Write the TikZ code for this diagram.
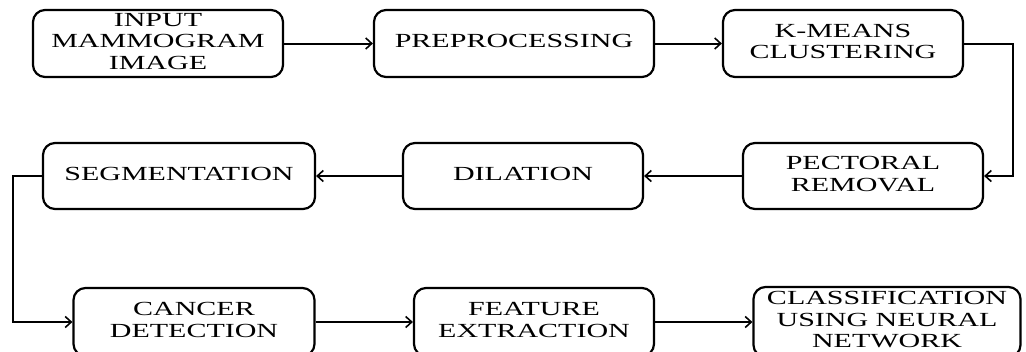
\documentclass[tikz,border=0pt]{standalone}
\usepackage{fontspec}
\setmainfont{Liberation Serif}
\usetikzlibrary{arrows.meta,positioning}
\newcommand\bt[1]{\scalebox{1.5}[1]{\begin{tabular}{@{}c@{}}#1\end{tabular}}}
\begin{document}
\begin{tikzpicture}[x=1pt,y=-1pt,
  box/.style={draw,line width=2.2pt,rounded corners=12pt,inner sep=0pt,
    font=\fontsize{20}{21.5}\selectfont,align=center},
  conn/.style={line width=2pt,-{Straight Barb[length=6pt,width=11pt,line width=1.6pt]}}]
\useasboundingbox (0,0) rectangle (1026,351);
\clip (0,0) rectangle (1026,351);
\node[box,minimum width=250pt,minimum height=67pt] (b1) at (158,43.5) {\bt{INPUT\\MAMMOGRAM\\IMAGE}};
\node[box,minimum width=280pt,minimum height=67pt] (b2) at (514,43.5) {\bt{PREPROCESSING}};
\node[box,minimum width=240pt,minimum height=67pt] (b3) at (843,43.5) {\bt{K-MEANS\\CLUSTERING}};
\node[box,minimum width=240pt,minimum height=66pt] (pr) at (863,176) {\bt{PECTORAL\\REMOVAL}};
\node[box,minimum width=240pt,minimum height=66pt] (di) at (523,176) {\bt{DILATION}};
\node[box,minimum width=272pt,minimum height=66pt] (se) at (179,176) {\bt{SEGMENTATION}};
\node[box,minimum width=241pt,minimum height=68pt] (ca) at (194,322) {\bt{CANCER\\DETECTION}};
\node[box,minimum width=240pt,minimum height=68pt] (fe) at (534,322) {\bt{FEATURE\\EXTRACTION}};
\node[box,minimum width=267pt,minimum height=70pt] (cl) at (887,322) {\bt{CLASSIFICATION\\USING NEURAL\\NETWORK}};
\coordinate (r1) at (1013,43.5);
\coordinate (r2) at (1013,176);
\coordinate (l1) at (13,176);
\coordinate (l2) at (13,322);
\draw[conn] (b1) -- (b2);
\draw[conn] (b2) -- (b3);
\draw[conn] (b3.east) -- (r1) -- (r2) -- (pr.east);
\draw[conn] (pr) -- (di);
\draw[conn] (di) -- (se);
\draw[conn] (se.west) -- (l1) -- (l2) -- (ca.west);
\draw[conn] (ca) -- (fe);
\draw[conn] (fe) -- (cl);
\end{tikzpicture}
\end{document}
